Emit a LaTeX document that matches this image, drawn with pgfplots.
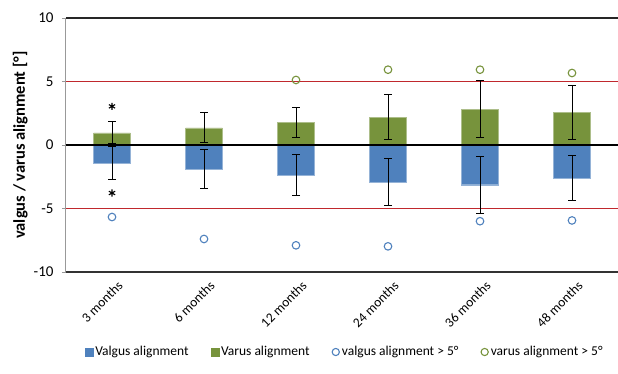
\documentclass[border=0pt]{standalone}
\usepackage{pgfplots}
\pgfplotsset{compat=1.18}
\usepackage{pgfplotstable}
\usepackage{fontspec}
\setmainfont{Carlito}
\definecolor{valgus}{RGB}{79,129,189}
\definecolor{varus}{RGB}{119,147,60}
\definecolor{limred}{RGB}{192,40,45}

\pgfplotstableread{
x valgus valguserr varus varuserr
0.5 -1.40 1.30 0.95 0.87
1.5 -1.89 1.57 1.34 1.18
2.5 -2.36 1.61 1.78 1.20
3.5 -2.91 1.84 2.20 1.80
4.5 -3.13 2.23 2.83 2.23
5.5 -2.60 1.79 2.57 2.14
}\bars

\pgfplotstableread{
x y
0.5 -5.67
1.5 -7.40
2.5 -7.90
3.5 -7.98
4.5 -6.00
5.5 -5.94
}\valgusout

\pgfplotstableread{
x y
2.5 5.12
3.5 5.93
4.5 5.93
5.5 5.67
}\varusout

\pgfplotstableread{
x y
0.5 3.04
0.5 -3.78
}\stars

\pgfplotstableread{
x y
0 5
6 5
}\upperlim

\pgfplotstableread{
x y
0 -5
6 -5
}\lowerlim

\begin{document}
\begin{tikzpicture}
\begin{axis}[
  scale only axis,
  width=552pt, height=254pt,
  xmin=0, xmax=6, ymin=-10, ymax=10,
  axis x line*=bottom, axis y line*=left,
  x axis line style={-, draw=black!80, line width=1.2pt},
  y axis line style={-, draw=black!40, line width=1pt},
  xtick={0.5,1.5,2.5,3.5,4.5,5.5},
  xticklabels={3 months,6 months,12 months,24 months,36 months,48 months},
  major x tick style={draw=none},
  xticklabel style={rotate=45, anchor=north east, font=\fontsize{13.5}{15}\selectfont, xshift=4pt, yshift=-3pt},
  ytick={-10,-5,0,5,10},
  yticklabels={-10,-5,0,5,10},
  yticklabel style={font=\fontsize{15}{17}\selectfont, xshift=-5pt},
  ytick pos=left,
  tick align=outside,
  major tick length=4pt,
  major y tick style={draw=black!40, line width=0.8pt},
  ylabel={valgus / varus alignment [°]},
  ylabel style={font=\bfseries\fontsize{16.5}{19}\selectfont, at={(axis description cs:-0.083,0.5)}, anchor=center},
  legend style={at={(axis description cs:0.505,-0.315)}, anchor=center, draw=none, fill=none,
    legend columns=4, font=\fontsize{13.5}{15}\selectfont,
    /tikz/every even column/.append style={column sep=20pt}},
  legend cell align=left,
  clip=false,
]
% limit lines
\addplot[draw=limred, line width=1.6pt, mark=none, forget plot] table {\upperlim};
\addplot[draw=limred, line width=1.6pt, mark=none, forget plot] table {\lowerlim};
\addplot[draw=black!85, line width=1.2pt, mark=none, forget plot] coordinates {(0,10) (6,10)};

% bars
\addplot[ybar, bar width=0.4, bar shift=0pt, fill=valgus, draw=valgus!60!white, line width=0.4pt,
  error bars/.cd, y dir=both, y explicit,
  error bar style={black, line width=1pt},
  error mark options={rotate=90, black, mark size=4pt, line width=1pt},
  /pgfplots/legend image code/.code={\fill[valgus] (0pt,-4pt) rectangle (8pt,4pt);}]
  table[x=x, y=valgus, y error=valguserr] {\bars};
\addlegendentry{Valgus alignment}
\addplot[ybar, bar width=0.4, bar shift=0pt, fill=varus, draw=varus!60!white, line width=0.4pt,
  error bars/.cd, y dir=both, y explicit,
  error bar style={black, line width=1pt},
  error mark options={rotate=90, black, mark size=4pt, line width=1pt},
  /pgfplots/legend image code/.code={\fill[varus] (0pt,-4pt) rectangle (8pt,4pt);}]
  table[x=x, y=varus, y error=varuserr] {\bars};
\addlegendentry{Varus alignment}

% zero line
\addplot[black, line width=1.8pt, mark=none, forget plot] coordinates {(0,0) (6,0)};

% outliers
\addplot[only marks, mark=o, mark size=3.8pt, draw=valgus, line width=1.1pt,
  legend image code/.code={\draw[valgus, line width=1.1pt] (3.8pt,0pt) circle (3.6pt);}]
  table {\valgusout};
\addlegendentry{valgus alignment > 5°}
\addplot[only marks, mark=o, mark size=3.8pt, draw=varus, line width=1.1pt,
  legend image code/.code={\draw[varus, line width=1.1pt] (3.8pt,0pt) circle (3.6pt);}]
  table {\varusout};
\addlegendentry{varus alignment > 5°}

% asterisks
\addplot[only marks, mark=asterisk, mark size=3.6pt, black, line width=1.1pt, forget plot] table {\stars};
\end{axis}
\pgfresetboundingbox
\path[use as bounding box] ([xshift=-66pt,yshift=-102pt]current axis.south west) rectangle ([yshift=18pt]current axis.north east);
\end{tikzpicture}
\end{document}
